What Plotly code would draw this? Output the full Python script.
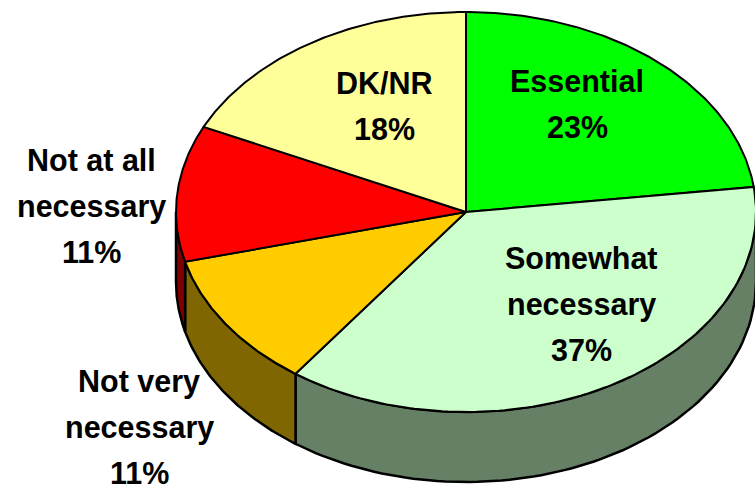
import numpy as np
import plotly.graph_objects as go

categories = ["Essential", "Somewhat necessary", "Not very necessary", "Not at all necessary", "DK/NR"]
values = [23, 37, 11, 11, 18]
top_colors = ["#00FF00", "#CCFFCC", "#FFCC00", "#FF0000", "#FFFF99"]
side_colors = ["#008000", "#668066", "#806600", "#800000", "#808040"]
label_lines = [["Essential", "23%"], ["Somewhat", "necessary", "37%"], ["Not very", "necessary", "11%"],
               ["Not at all", "necessary", "11%"], ["DK/NR", "18%"]]
label_anchor = [(577, 81), (581, 258), (139, 381), (91, 160), (384, 83)]

CX, CY, RX, RY, DEPTH = 466, 212, 290, 200, 70
LINE_GAP = 46
FONT = "Liberation Sans, Arial, sans-serif"

def pt(deg, dy=0):
    t = np.radians(deg)
    return CX + RX * np.sin(t), CY - RY * np.cos(t) + dy

fig = go.Figure()
edges = np.concatenate([[0], np.cumsum(values)]) * 3.6

# side walls (only the front half of the rim is visible)
for i in range(len(values)):
    a, b = max(edges[i], 90), min(edges[i + 1], 270)
    if a >= b:
        continue
    th = np.linspace(a, b, 80)
    x1, y1 = pt(th)
    x2, y2 = pt(th[::-1], DEPTH)
    fig.add_trace(go.Scatter(x=np.r_[x1, x2, x1[0]], y=np.r_[y1, y2, y1[0]], mode="lines", fill="toself",
                             fillcolor=side_colors[i], line=dict(color="black", width=2.5), hoverinfo="skip"))

# top faces
for i in range(len(values)):
    th = np.linspace(edges[i], edges[i + 1], 120)
    x, y = pt(th)
    fig.add_trace(go.Scatter(x=np.r_[CX, x, CX], y=np.r_[CY, y, CY], mode="lines", fill="toself",
                             fillcolor=top_colors[i], line=dict(color="black", width=2), name=categories[i],
                             hoverinfo="name"))

# labels
for lines, (ax, ay) in zip(label_lines, label_anchor):
    for j, line in enumerate(lines):
        fig.add_annotation(x=ax, y=ay + j * LINE_GAP, text=f"<b>{line}</b>", showarrow=False,
                           font=dict(family=FONT, size=30.5, color="black"), xanchor="center", yanchor="middle")

fig.update_layout(width=755, height=486, margin=dict(l=0, r=0, t=0, b=0), showlegend=False,
                  paper_bgcolor="white", plot_bgcolor="white",
                  xaxis=dict(range=[0, 755], visible=False), yaxis=dict(range=[486, 0], visible=False))
fig.write_html("out.html", config={"displayModeBar": False},
               post_script="document.body.style.margin='0';document.body.style.overflow='hidden';")
